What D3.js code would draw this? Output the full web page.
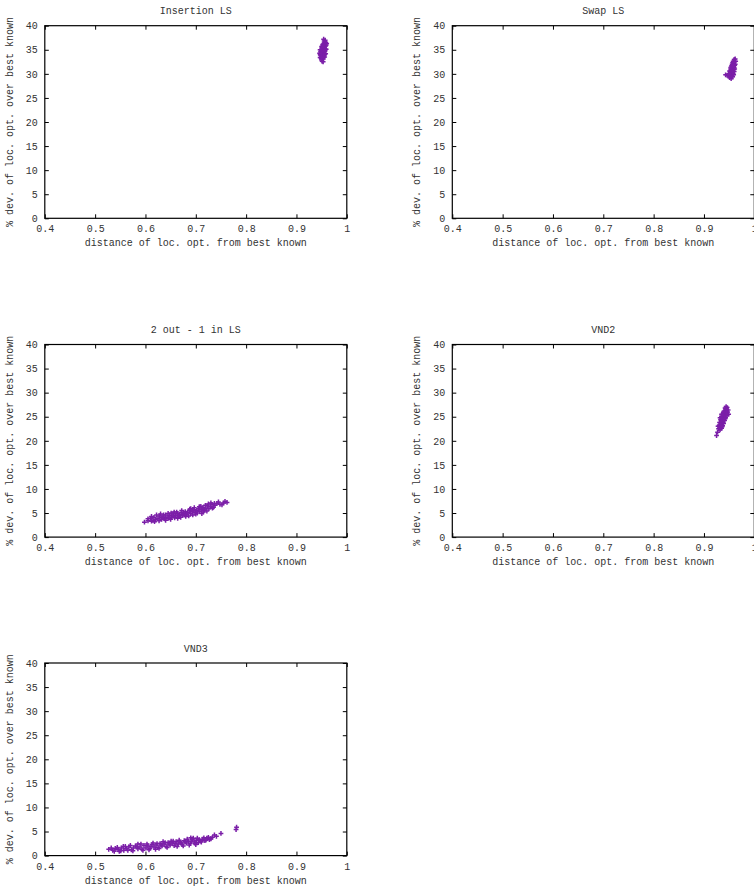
<!DOCTYPE html>
<html>
<head>
<meta charset="utf-8">
<script src="https://cdn.jsdelivr.net/npm/d3@7"></script>
<style>
  body { margin: 0; background: #fff; }
  text { font-family: "Courier New", "Liberation Mono", monospace; fill: #333; }
</style>
</head>
<body>
<svg id="chart"></svg>
<script>
var width = 754
var height = 889

var xTicks = [0.4, 0.5, 0.6, 0.7, 0.8, 0.9, 1]
var yTicks = [0, 5, 10, 15, 20, 25, 30, 35, 40]
var xLabel = "distance of loc. opt. from best known"
var yLabel = "% dev. of loc. opt. over best known"

var titles = ["Insertion LS", "Swap LS", "2 out - 1 in LS", "VND2", "VND3"]

// [distance, % deviation]
var insertionLS = [
  [0.951,32.6],[0.949,33.2],[0.953,33.1],[0.948,33.8],[0.952,33.7],[0.955,33.9],
  [0.949,34.4],[0.953,34.3],[0.956,34.6],[0.950,35.0],[0.954,35.0],[0.957,35.2],
  [0.952,35.6],[0.955,35.7],[0.958,35.8],[0.953,36.2],[0.957,36.3],[0.959,36.0],
  [0.955,36.8],[0.954,37.2],[0.947,34.0],[0.951,34.1],[0.954,34.9],[0.956,36.0],
  [0.958,36.5],[0.950,33.5],[0.952,34.7],[0.955,35.3],[0.948,34.6],[0.951,35.4],
  [0.947,33.4],[0.950,32.9],[0.953,32.5],[0.956,33.5],[0.958,34.2],[0.959,35.1],
  [0.960,36.3],[0.957,37.0],[0.955,36.4],[0.952,36.0],[0.950,35.7],[0.947,35.0],
  [0.946,34.3],[0.949,34.9],[0.953,35.8],[0.956,34.0],[0.954,33.5],[0.957,34.8]
]
var swapLS = [
  [0.943,29.8],[0.946,29.7],[0.949,29.9],[0.951,29.2],[0.954,29.0],[0.957,29.4],
  [0.952,30.2],[0.955,30.0],[0.958,30.1],[0.953,30.8],[0.956,30.7],[0.959,30.9],
  [0.954,31.4],[0.957,31.5],[0.960,31.3],[0.956,32.0],[0.959,32.1],[0.961,31.8],
  [0.958,32.6],[0.961,32.5],[0.960,33.0],[0.955,31.0],[0.958,31.0],[0.952,30.5],
  [0.950,29.5],[0.953,29.6],[0.956,29.5],[0.959,29.8],[0.960,30.5],[0.961,31.0],
  [0.962,32.0],[0.963,32.6],[0.962,33.1],[0.957,32.3],[0.955,31.7],[0.953,31.2],
  [0.951,30.6],[0.950,30.0],[0.957,30.4],[0.959,31.6]
]
var twoOutOneIn = [
  [0.598,3.1],[0.605,3.4],[0.610,3.9],[0.612,3.3],[0.617,4.1],[0.620,3.6],
  [0.625,3.9],[0.628,4.4],[0.632,3.7],[0.635,4.2],[0.638,3.8],[0.640,4.6],
  [0.643,4.1],[0.646,3.9],[0.648,4.5],[0.652,4.2],[0.655,4.8],[0.658,4.0],
  [0.660,4.5],[0.663,4.9],[0.666,4.3],[0.668,4.7],[0.671,5.1],[0.674,4.5],
  [0.676,4.9],[0.679,5.3],[0.682,4.7],[0.684,5.1],[0.687,5.5],[0.690,4.9],
  [0.693,5.3],[0.696,5.7],[0.699,5.1],[0.702,5.5],[0.705,5.9],[0.708,5.3],
  [0.711,5.7],[0.714,6.1],[0.717,5.6],[0.720,6.0],[0.723,6.5],[0.726,5.9],
  [0.729,6.3],[0.732,6.8],[0.735,6.2],[0.738,6.6],[0.742,7.0],[0.748,6.8],
  [0.755,7.1],[0.762,7.2],[0.622,4.6],[0.650,3.7],[0.662,5.2],[0.690,5.9],
  [0.700,4.8],[0.715,5.2],[0.730,7.1],[0.615,3.5],[0.640,3.5],[0.680,4.3],
  [0.694,4.6],[0.710,6.4],
  [0.605,3.8],[0.612,4.3],[0.618,3.2],[0.627,3.4],[0.630,4.8],[0.636,4.6],
  [0.645,4.9],[0.651,5.0],[0.657,5.2],[0.664,3.9],[0.670,4.1],[0.672,5.5],
  [0.678,4.6],[0.686,4.4],[0.688,5.8],[0.697,6.1],[0.703,5.0],[0.707,6.3],
  [0.712,4.9],[0.719,6.6],[0.722,5.4],[0.725,6.9],[0.733,6.0],[0.737,7.0],
  [0.745,7.3],[0.752,6.7],[0.758,7.4],[0.633,4.0],[0.655,4.4],[0.675,5.0],
  [0.695,5.5],[0.716,5.9]
]
var vnd2 = [
  [0.925,21.1],[0.927,21.8],[0.929,22.5],[0.932,22.3],[0.935,22.6],[0.930,23.2],
  [0.933,23.0],[0.937,23.1],[0.931,23.8],[0.935,23.7],[0.939,23.6],[0.933,24.4],
  [0.937,24.3],[0.941,24.2],[0.935,25.0],[0.939,24.9],[0.943,24.8],[0.938,25.6],
  [0.942,25.5],[0.946,25.4],[0.940,26.2],[0.944,26.1],[0.947,26.0],[0.943,26.7],
  [0.946,26.9],[0.936,24.0],[0.940,25.2],[0.944,25.3],[0.934,22.9],
  [0.928,23.0],[0.931,22.6],[0.934,23.5],[0.936,22.9],[0.938,23.9],[0.932,24.8],
  [0.936,24.6],[0.938,24.3],[0.942,24.6],[0.937,25.4],[0.941,25.9],[0.945,25.8],
  [0.948,26.4],[0.945,26.5],[0.942,26.8],[0.939,26.0],[0.935,25.5],[0.934,24.1],
  [0.944,27.1],[0.949,25.5]
]
var vnd3 = [
  [0.527,1.3],[0.535,1.1],[0.540,1.5],[0.546,1.2],[0.552,1.6],[0.557,1.1],
  [0.562,1.4],[0.567,1.8],[0.572,1.2],[0.576,1.6],[0.580,2.0],[0.585,1.4],
  [0.589,1.8],[0.593,1.3],[0.597,2.1],[0.601,1.6],[0.605,2.0],[0.609,1.5],
  [0.613,2.3],[0.617,1.8],[0.621,2.2],[0.625,1.7],[0.629,2.5],[0.633,2.0],
  [0.637,2.4],[0.641,1.9],[0.645,2.7],[0.649,2.2],[0.653,2.6],[0.657,2.1],
  [0.661,2.9],[0.665,2.4],[0.669,2.8],[0.673,2.3],[0.677,3.1],[0.681,2.6],
  [0.685,3.0],[0.689,2.5],[0.693,3.4],[0.697,2.8],[0.701,3.2],[0.705,2.7],
  [0.709,3.0],[0.713,3.4],[0.718,3.1],[0.722,3.6],[0.727,3.3],[0.733,3.8],
  [0.737,4.3],[0.750,4.6],[0.780,5.4],[0.781,5.9],[0.548,0.9],[0.585,2.4],
  [0.620,1.3],[0.655,3.0],[0.690,3.7],[0.700,2.3],[0.560,1.9],[0.635,2.9],
  [0.532,1.6],[0.538,0.9],[0.544,1.7],[0.551,1.0],[0.556,1.9],[0.565,1.1],
  [0.570,2.1],[0.575,1.0],[0.583,1.8],[0.591,2.4],[0.595,1.1],[0.603,2.4],
  [0.607,1.2],[0.611,1.9],[0.615,2.6],[0.623,2.5],[0.627,1.5],[0.631,2.2],
  [0.639,2.7],[0.643,1.7],[0.647,2.4],[0.651,3.0],[0.659,2.5],[0.663,1.9],
  [0.667,3.2],[0.671,2.6],[0.675,2.0],[0.679,2.9],[0.683,3.4],[0.687,2.2],
  [0.691,3.0],[0.695,3.6],[0.699,2.5],[0.703,3.6],[0.707,3.3],[0.711,2.8],
  [0.716,3.7],[0.720,3.2],[0.725,3.8],[0.730,3.5],[0.741,4.0]
]

var series = [insertionLS, swapLS, twoOutOneIn, vnd2, vnd3]

var plotW = 302
var plotH = 192.6
var colLeft = [44.8, 452.3]
var rowTop = [25.7, 344.5, 663]
var color = "#7b1fa8"

var svg = d3.select("#chart")
  .attr("width", width)
  .attr("height", height)

var plus = "M-2.4,0H2.4M0,-2.4V2.4"

series.forEach(function(data, i) {
  var col = i % 2
  var row = Math.floor(i / 2)

  var x = d3.scaleLinear().domain([0.4, 1]).range([0, plotW])
  var y = d3.scaleLinear().domain([0, 40]).range([plotH, 0])

  var g = svg.append("g")
    .attr("transform", "translate(" + colLeft[col] + "," + rowTop[row] + ")")

  // bottom axis with labels, ticks pointing in
  var gx = g.append("g")
    .attr("transform", "translate(0," + plotH + ")")
    .call(d3.axisBottom(x).tickValues(xTicks).tickSize(-4).tickPadding(7).tickFormat(d3.format("")))
  var gy = g.append("g")
    .call(d3.axisLeft(y).tickValues(yTicks).tickSize(-4).tickPadding(7))
  // mirrored ticks
  var gt = g.append("g")
    .call(d3.axisTop(x).tickValues(xTicks).tickSize(-4).tickFormat(""))
  var gr = g.append("g")
    .attr("transform", "translate(" + plotW + ",0)")
    .call(d3.axisRight(y).tickValues(yTicks).tickSize(-4).tickFormat(""))

  ;[gx, gy, gt, gr].forEach(function(a) {
    a.select(".domain").remove()
    a.selectAll(".tick line").attr("stroke", "#000")
    a.selectAll("text").style("font-size", "10px").attr("fill", "#333")
  })

  g.append("rect")
    .attr("width", plotW)
    .attr("height", plotH)
    .attr("fill", "none")
    .attr("stroke", "#000")
    .attr("stroke-width", 1.2)

  g.append("g")
    .selectAll("path")
    .data(data)
    .enter()
      .append("path")
      .attr("d", plus)
      .attr("transform", d => "translate(" + x(d[0]) + "," + y(d[1]) + ")")
      .attr("stroke", color)
      .attr("stroke-width", 1.5)
      .attr("fill", "none")

  g.append("text")
    .attr("x", plotW / 2)
    .attr("y", -11.5)
    .attr("text-anchor", "middle")
    .style("font-size", "10px")
    .text(titles[i])

  g.append("text")
    .attr("x", plotW / 2)
    .attr("y", plotH + 28)
    .attr("text-anchor", "middle")
    .style("font-size", "10px")
    .text(xLabel)

  g.append("text")
    .attr("transform", "translate(-32," + (plotH / 2) + ") rotate(-90)")
    .attr("text-anchor", "middle")
    .style("font-size", "10px")
    .text(yLabel)
})
</script>
</body>
</html>
